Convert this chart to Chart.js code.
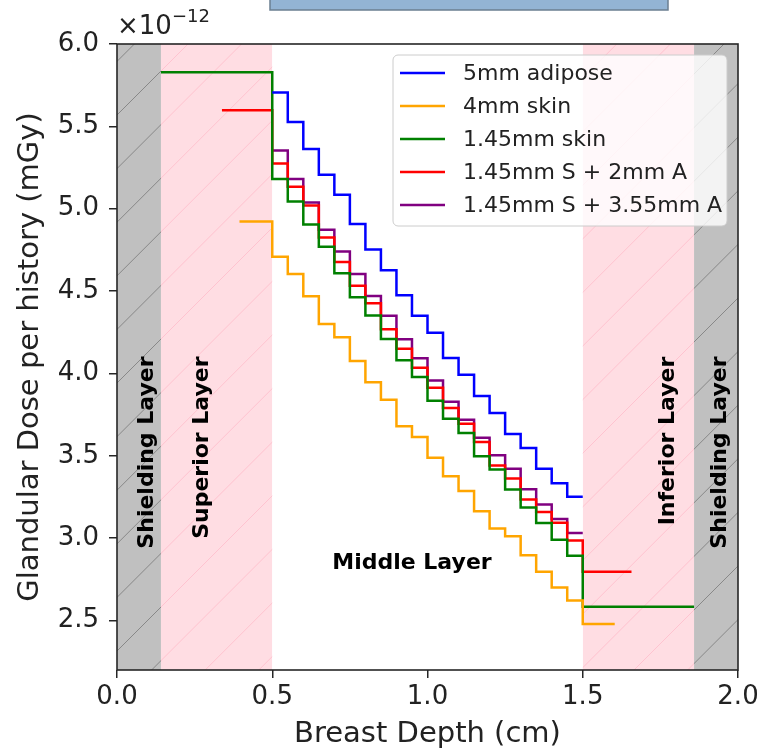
<!DOCTYPE html>
<html>
<head>
<meta charset="utf-8">
<script src="https://cdn.jsdelivr.net/npm/chart.js@4.4.1/dist/chart.umd.min.js"></script>
<style>
    html, body { margin: 0; padding: 0; background: #ffffff; }
    #wrap { width: 757px; height: 752px; position: relative; }
</style>
</head>
<body>
<div id="wrap"><canvas id="doseChart"></canvas></div>
<script>
// values are in units of 1e-12 mGy (shown as the x10^-12 offset text)
const seriesLabels = ['5mm adipose', '4mm skin', '1.45mm skin', '1.45mm S + 2mm A', '1.45mm S + 3.55mm A'];

// left edges of the middle layer bins (cm), last entry closes the last bin
const binEdges = [0.50, 0.55, 0.60, 0.65, 0.70, 0.75, 0.80, 0.85, 0.90, 0.95,
                  1.00, 1.05, 1.10, 1.15, 1.20, 1.25, 1.30, 1.35, 1.40, 1.45, 1.50];

const adipose5mm = [5.705, 5.527, 5.362, 5.206, 5.085, 4.907, 4.752, 4.626, 4.475, 4.350,
                    4.247, 4.094, 3.993, 3.864, 3.760, 3.632, 3.547, 3.422, 3.334, 3.252];
const skin4mm = [4.709, 4.604, 4.469, 4.301, 4.220, 4.075, 3.947, 3.840, 3.679, 3.614,
                 3.489, 3.376, 3.287, 3.164, 3.059, 3.012, 2.897, 2.796, 2.701, 2.622];
const skin145mm = [5.180, 5.044, 4.905, 4.770, 4.608, 4.462, 4.352, 4.210, 4.081, 3.978,
                   3.834, 3.725, 3.638, 3.498, 3.417, 3.295, 3.186, 3.093, 2.990, 2.894];
const skinAdip2mm = [5.275, 5.133, 5.020, 4.826, 4.677, 4.533, 4.426, 4.268, 4.150, 4.035,
                     3.913, 3.790, 3.695, 3.584, 3.442, 3.362, 3.235, 3.159, 3.094, 2.986];
const skinAdip355mm = [5.354, 5.180, 5.038, 4.873, 4.741, 4.604, 4.470, 4.350, 4.207, 4.093,
                       3.958, 3.829, 3.719, 3.610, 3.503, 3.422, 3.297, 3.205, 3.116, 3.032];

// superior / inferior layer segments (null = series has none)
const superiorStart = [null, 0.3945, 0.1415, 0.338, null];
const superiorValue = [null, 4.923, 5.828, 5.598, null];
const inferiorEnd = [null, 1.603, 1.8585, 1.657, null];
const inferiorValue = [null, 2.479, 2.584, 2.796, null];

// layer boundaries (cm) and tick labels
const layerEdges = [0, 0.1415, 0.5, 1.5, 1.8585, 2.0];
const layerKinds = ['shield', 'tissue', 'middle', 'tissue', 'shield'];
const layerNames = ['Shielding Layer', 'Superior Layer', 'Middle Layer', 'Inferior Layer', 'Shielding Layer'];
const layerLabelX = [0.0975, 0.2745, 0.95, 1.774, 1.944];
const layerLabelY = [3.52, 3.55, 2.85, 3.59, 3.52];
const xTicks = [0.0, 0.5, 1.0, 1.5, 2.0];
const yTicks = [2.5, 3.0, 3.5, 4.0, 4.5, 5.0, 5.5, 6.0];

const middleValues = [adipose5mm, skin4mm, skin145mm, skinAdip2mm, skinAdip355mm];
const lineColors = ['#0000ff', '#ffa500', '#008000', '#ff0000', '#800080'];
const FONT = "'DejaVu Sans', 'Liberation Sans', sans-serif";

function buildSeries(i) {
    const pts = [];
    const vals = middleValues[i];
    if (superiorStart[i] !== null) {
        pts.push({ x: superiorStart[i], y: superiorValue[i] });
    }
    vals.forEach((v, k) => pts.push({ x: binEdges[k], y: v }));
    const end = binEdges[binEdges.length - 1];
    if (inferiorEnd[i] !== null) {
        pts.push({ x: end, y: inferiorValue[i] });
        pts.push({ x: inferiorEnd[i], y: inferiorValue[i] });
    } else {
        pts.push({ x: end, y: vals[vals.length - 1] });
    }
    return pts;
}

// shaded + hatched layers behind the lines
const layerPlugin = {
    id: 'layers',
    beforeDatasetsDraw(chart) {
        const { ctx, chartArea: a, scales: { x } } = chart;
        ctx.save();
        for (let i = 0; i < layerKinds.length; i++) {
            if (layerKinds[i] === 'middle') continue;
            const x0 = x.getPixelForValue(layerEdges[i]);
            const x1 = x.getPixelForValue(layerEdges[i + 1]);
            const shield = layerKinds[i] === 'shield';
            ctx.save();
            ctx.beginPath();
            ctx.rect(x0, a.top, x1 - x0, a.bottom - a.top);
            ctx.clip();
            ctx.fillStyle = shield ? '#c0c0c0' : '#ffdde3';
            ctx.fillRect(x0, a.top, x1 - x0, a.bottom - a.top);
            ctx.strokeStyle = shield ? 'rgba(90,90,90,0.55)' : 'rgba(255,170,190,0.5)';
            ctx.lineWidth = 1;
            const step = 53.6;
            let c = 500 - step * Math.ceil((500 - (x0 + a.top)) / step);
            for (; c <= x1 + a.bottom; c += step) {
                ctx.beginPath();
                ctx.moveTo(c - a.top, a.top);
                ctx.lineTo(c - a.bottom, a.bottom);
                ctx.stroke();
            }
            ctx.restore();
        }
        ctx.restore();
    }
};

// frame, layer names, legend, offset text and the clipped box at the top
const overlayPlugin = {
    id: 'overlay',
    afterDatasetsDraw(chart) {
        const { ctx, chartArea: a, scales: { x, y } } = chart;
        ctx.save();

        ctx.fillStyle = '#000';
        ctx.font = 'bold 22px ' + FONT;
        ctx.textAlign = 'center';
        ctx.textBaseline = 'middle';
        layerNames.forEach((name, i) => {
            const px = x.getPixelForValue(layerLabelX[i]);
            const py = y.getPixelForValue(layerLabelY[i]);
            ctx.save();
            ctx.translate(px, py);
            if (layerKinds[i] !== 'middle') ctx.rotate(-Math.PI / 2);
            ctx.fillText(name, 0, 0);
            ctx.restore();
        });

        ctx.strokeStyle = '#262626';
        ctx.lineWidth = 1.6;
        ctx.strokeRect(a.left, a.top, a.right - a.left, a.bottom - a.top);

        // legend
        const lx = 393, ly = 55, lw = 334, lh = 171;
        ctx.beginPath();
        ctx.roundRect(lx, ly, lw, lh, 5);
        ctx.fillStyle = 'rgba(255,255,255,0.8)';
        ctx.fill();
        ctx.strokeStyle = '#cccccc';
        ctx.lineWidth = 1;
        ctx.stroke();
        ctx.font = '22px ' + FONT;
        ctx.textAlign = 'left';
        ctx.textBaseline = 'middle';
        seriesLabels.forEach((label, i) => {
            const ry = 73 + i * 33;
            ctx.strokeStyle = lineColors[i];
            ctx.lineWidth = 2.5;
            ctx.beginPath();
            ctx.moveTo(400, ry);
            ctx.lineTo(445, ry);
            ctx.stroke();
            ctx.fillStyle = '#222';
            ctx.fillText(label, 463, ry + 1);
        });

        // offset text
        ctx.fillStyle = '#222';
        ctx.textBaseline = 'alphabetic';
        ctx.font = '26px ' + FONT;
        ctx.fillText('\u00d710', 117, 34);
        ctx.font = '18px ' + FONT;
        ctx.fillText('\u221212', 172, 22);

        // box cut off at the top of the figure
        ctx.fillStyle = '#93b4d4';
        ctx.fillRect(270, -2, 398, 12);
        ctx.strokeStyle = '#6b7f91';
        ctx.lineWidth = 1.5;
        ctx.strokeRect(270, -2, 398, 12);

        ctx.restore();
    }
};

const chart = new Chart(document.getElementById('doseChart'), {
    type: 'line',
    data: {
        datasets: seriesLabels.map((label, i) => ({
            label: label,
            data: buildSeries(i),
            borderColor: lineColors[i],
            borderWidth: 2.5,
            pointRadius: 0,
            fill: false,
            stepped: 'before'
        }))
    },
    options: {
        responsive: true,
        maintainAspectRatio: false,
        animation: false,
        layout: { padding: { top: 44, right: 19, left: 0, bottom: 0 } },
        plugins: {
            legend: { display: false },
            tooltip: { enabled: false }
        },
        scales: {
            x: {
                type: 'linear',
                min: 0,
                max: 2,
                afterFit: s => { s.height = 82; s.paddingLeft = 0; s.paddingRight = 0; },
                afterBuildTicks: s => { s.ticks = xTicks.map(v => ({ value: v })); },
                grid: { drawOnChartArea: false, drawTicks: true, tickLength: 8, color: '#262626', lineWidth: 1.5 },
                border: { display: false },
                ticks: {
                    color: '#222',
                    padding: 4,
                    maxRotation: 0,
                    font: { family: FONT, size: 26 },
                    callback: v => v.toFixed(1)
                },
                title: {
                    display: true,
                    text: 'Breast Depth (cm)',
                    color: '#222',
                    font: { family: FONT, size: 29, lineHeight: 1 },
                    padding: { top: 0, bottom: 3 }
                }
            },
            y: {
                type: 'linear',
                min: 2.2,
                max: 6.0,
                afterFit: s => { s.width = 117; s.paddingTop = 0; s.paddingBottom = 0; },
                afterBuildTicks: s => { s.ticks = yTicks.map(v => ({ value: v })); },
                grid: { drawOnChartArea: false, drawTicks: true, tickLength: 8, color: '#262626', lineWidth: 1.5 },
                border: { display: false },
                ticks: {
                    color: '#222',
                    padding: 10,
                    font: { family: FONT, size: 26 },
                    callback: v => v.toFixed(1)
                },
                title: {
                    display: true,
                    text: 'Glandular Dose per history (mGy)',
                    color: '#222',
                    font: { family: FONT, size: 29, lineHeight: 1.2 },
                    padding: { top: 13, bottom: 0 }
                }
            }
        }
    },
    plugins: [layerPlugin, overlayPlugin]
});
</script>
</body>
</html>
